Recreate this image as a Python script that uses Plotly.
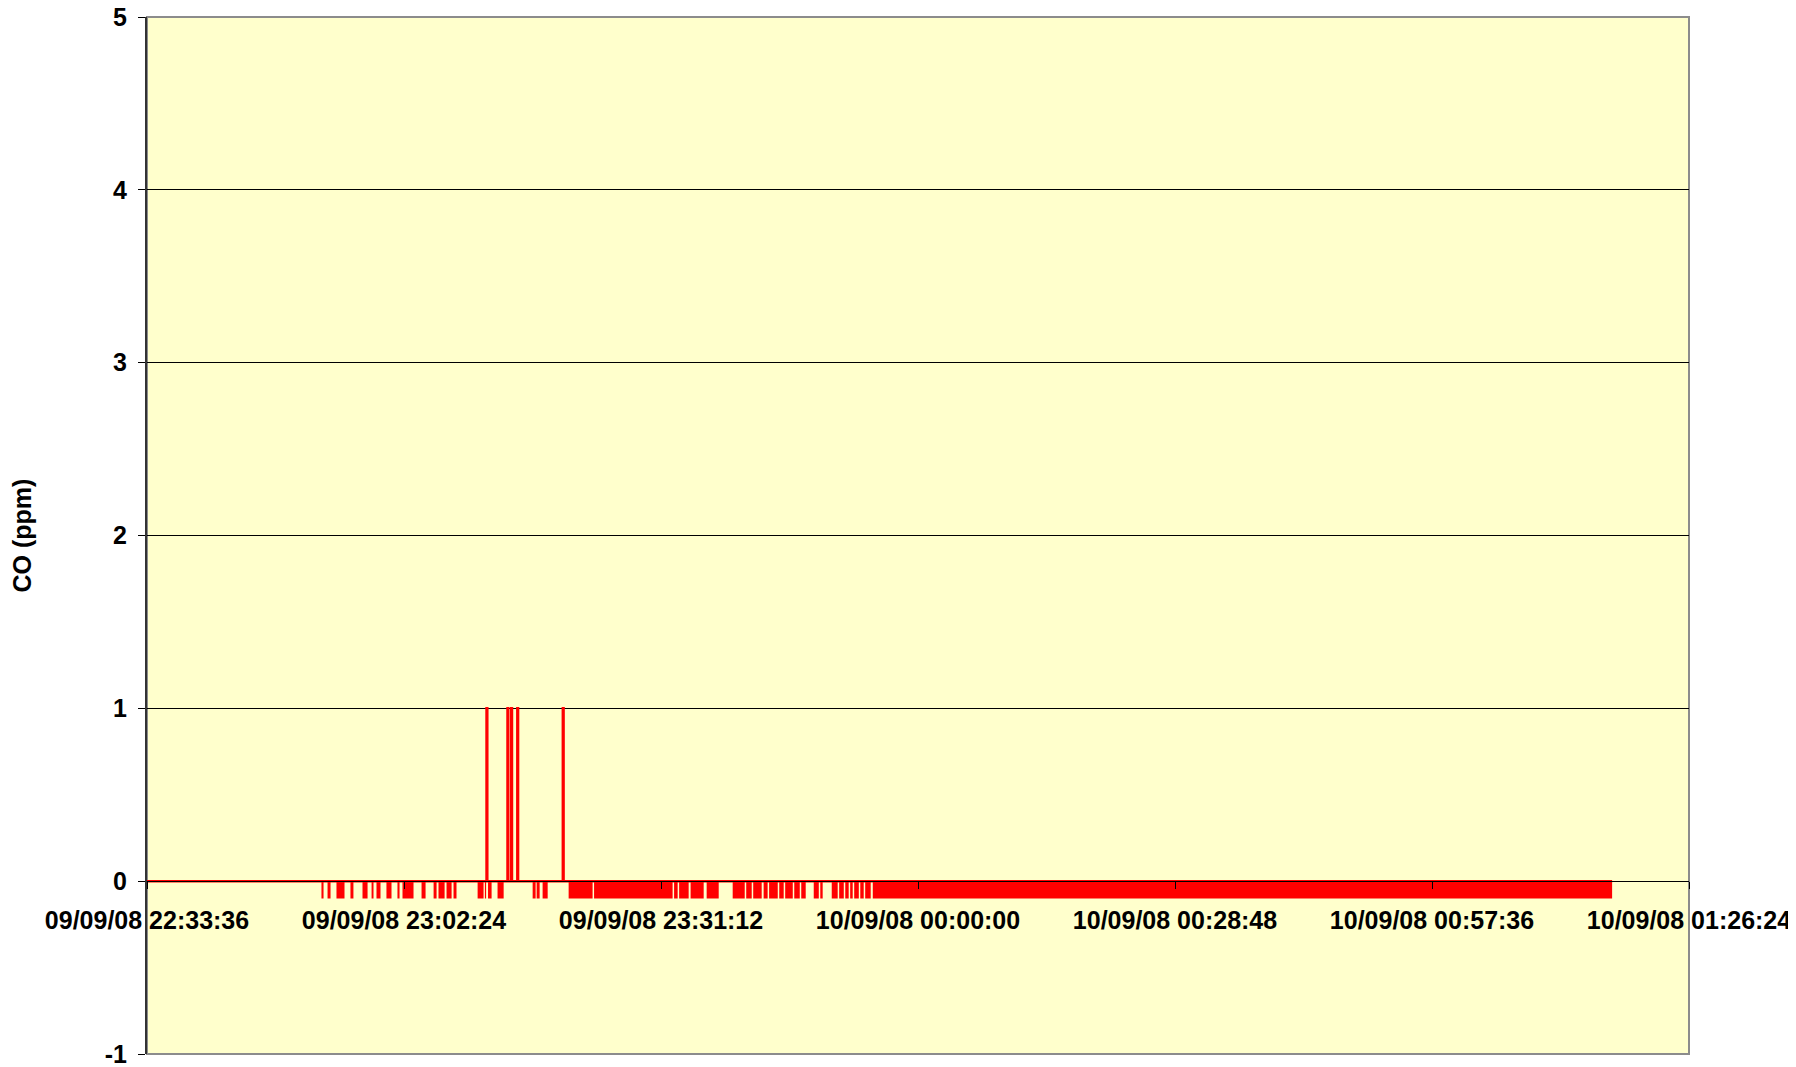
import plotly.graph_objects as go

# CO reading (ppm) at each moment the value changes (step series, 0 / 1 readings)
change_times = [
    "2008-09-09 22:33:36",
    "2008-09-09 23:11:39", "2008-09-09 23:11:44",
    "2008-09-09 23:14:00", "2008-09-09 23:14:05",
    "2008-09-09 23:14:25", "2008-09-09 23:14:30",
    "2008-09-09 23:15:06", "2008-09-09 23:15:11",
    "2008-09-09 23:20:12", "2008-09-09 23:20:17",
    "2008-09-10 01:17:47",
]
co_ppm = [0, 1, 0, 1, 0, 1, 0, 1, 0, 1, 0, 0]

# periods where the reading drops to -0.1 (flickering 0 / -0.1 sample by sample)
dip_start = [
    "2008-09-09 22:53:09", "2008-09-09 22:53:50", "2008-09-09 22:54:50",
    "2008-09-09 22:56:24", "2008-09-09 22:57:45", "2008-09-09 22:58:46",
    "2008-09-09 22:59:19", "2008-09-09 23:00:26", "2008-09-09 23:01:40",
    "2008-09-09 23:02:14", "2008-09-09 23:04:22", "2008-09-09 23:05:43",
    "2008-09-09 23:06:16", "2008-09-09 23:07:10", "2008-09-09 23:07:57",
    "2008-09-09 23:10:39", "2008-09-09 23:11:28", "2008-09-09 23:11:49",
    "2008-09-09 23:12:53", "2008-09-09 23:16:49", "2008-09-09 23:17:16",
    "2008-09-09 23:17:56",
    "2008-09-09 23:20:51", "2008-09-09 23:23:42", "2008-09-09 23:32:40",
    "2008-09-09 23:33:14", "2008-09-09 23:34:31", "2008-09-09 23:36:19",
    "2008-09-09 23:39:14", "2008-09-09 23:40:45", "2008-09-09 23:41:32",
    "2008-09-09 23:42:42", "2008-09-09 23:43:19", "2008-09-09 23:44:27",
    "2008-09-09 23:45:07", "2008-09-09 23:46:08", "2008-09-09 23:46:55",
    "2008-09-09 23:48:19", "2008-09-09 23:49:03", "2008-09-09 23:50:20",
    "2008-09-09 23:51:10", "2008-09-09 23:51:51", "2008-09-09 23:52:24",
    "2008-09-09 23:52:51", "2008-09-09 23:53:32", "2008-09-09 23:54:05",
    "2008-09-09 23:54:56",
]
dip_end = [
    "2008-09-09 22:53:23", "2008-09-09 22:54:10", "2008-09-09 22:55:44",
    "2008-09-09 22:56:44", "2008-09-09 22:58:19", "2008-09-09 22:58:59",
    "2008-09-09 22:59:46", "2008-09-09 23:01:00", "2008-09-09 23:01:54",
    "2008-09-09 23:03:28", "2008-09-09 23:04:49", "2008-09-09 23:06:03",
    "2008-09-09 23:06:57", "2008-09-09 23:07:44", "2008-09-09 23:08:17",
    "2008-09-09 23:11:19", "2008-09-09 23:11:36", "2008-09-09 23:12:13",
    "2008-09-09 23:13:34", "2008-09-09 23:17:09", "2008-09-09 23:17:36",
    "2008-09-09 23:18:30",
    "2008-09-09 23:23:32", "2008-09-09 23:32:30", "2008-09-09 23:33:04",
    "2008-09-09 23:34:18", "2008-09-09 23:35:59", "2008-09-09 23:37:40",
    "2008-09-09 23:40:35", "2008-09-09 23:41:22", "2008-09-09 23:42:29",
    "2008-09-09 23:43:09", "2008-09-09 23:44:17", "2008-09-09 23:44:57",
    "2008-09-09 23:45:58", "2008-09-09 23:46:45", "2008-09-09 23:47:25",
    "2008-09-09 23:48:53", "2008-09-09 23:49:19", "2008-09-09 23:51:00",
    "2008-09-09 23:51:41", "2008-09-09 23:52:14", "2008-09-09 23:52:41",
    "2008-09-09 23:53:22", "2008-09-09 23:53:55", "2008-09-09 23:54:42",
    "2008-09-10 01:17:47",
]
dip_value = -0.1

y_ticks = [-1, 0, 1, 2, 3, 4, 5]
y_tick_text = ["-1", "0", "1", "2", "3", "4", "5"]

x_start = "2008-09-09 22:33:36"
x_end = "2008-09-10 01:26:24"
x_step_ms = 28.8 * 60 * 1000  # 28:48 between ticks

band_x, band_y = [], []
for s, e in zip(dip_start, dip_end):
    band_x += [s, s, e, e, s, None]
    band_y += [0, dip_value, dip_value, 0, 0, None]

fig = go.Figure()
fig.add_trace(
    go.Scatter(
        x=band_x,
        y=band_y,
        mode="lines",
        fill="toself",
        fillcolor="#FF0000",
        line=dict(width=0, color="#FF0000"),
        hoverinfo="skip",
    )
)
fig.add_trace(
    go.Scatter(
        x=change_times,
        y=co_ppm,
        mode="lines",
        line=dict(color="#FF0000", width=2.5, shape="hv"),
        name="CO",
    )
)

font = dict(family="Arial, Liberation Sans, sans-serif", size=25, color="black", weight="bold")

# page body has an 8px margin, so the figure is sized to sit inside the window
fig.update_layout(
    width=1788,
    height=1059,
    margin=dict(l=139, r=107, t=9, b=13),
    paper_bgcolor="white",
    plot_bgcolor="#FFFFCC",
    showlegend=False,
    font=font,
    shapes=[
        dict(
            type="rect", xref="paper", yref="paper", x0=0, x1=1, y0=0, y1=1,
            line=dict(color="#8C8C8C", width=2), layer="below",
        )
    ],
    annotations=[
        dict(
            text="CO (ppm)", xref="paper", yref="paper", x=-0.0817, y=0.5,
            textangle=-90, showarrow=False, font=font,
            xanchor="center", yanchor="middle",
        )
    ],
)

# Excel-style: the date axis crosses the value axis at 0
fig.update_xaxes(
    type="date",
    range=[x_start, x_end],
    tick0=x_start,
    dtick=x_step_ms,
    tickformat="%d/%m/%y %H:%M:%S",
    anchor="free",
    position=1 / 6,
    showgrid=False,
    showline=True,
    linecolor="black",
    linewidth=1,
    ticks="outside",
    ticklen=7,
    tickcolor="black",
    ticklabelstandoff=10,
    ticklabeloverflow="allow",
    automargin=False,
    tickfont=font,
)
fig.update_yaxes(
    range=[-1, 5],
    tickmode="array",
    tickvals=y_ticks,
    ticktext=y_tick_text,
    showgrid=True,
    gridcolor="black",
    gridwidth=1,
    zeroline=False,
    showline=True,
    linecolor="#333333",
    linewidth=2,
    ticks="outside",
    ticklen=7,
    tickcolor="black",
    ticklabelstandoff=6,
    ticklabeloverflow="allow",
    automargin=False,
    tickfont=font,
)

fig.write_html("out.html")
